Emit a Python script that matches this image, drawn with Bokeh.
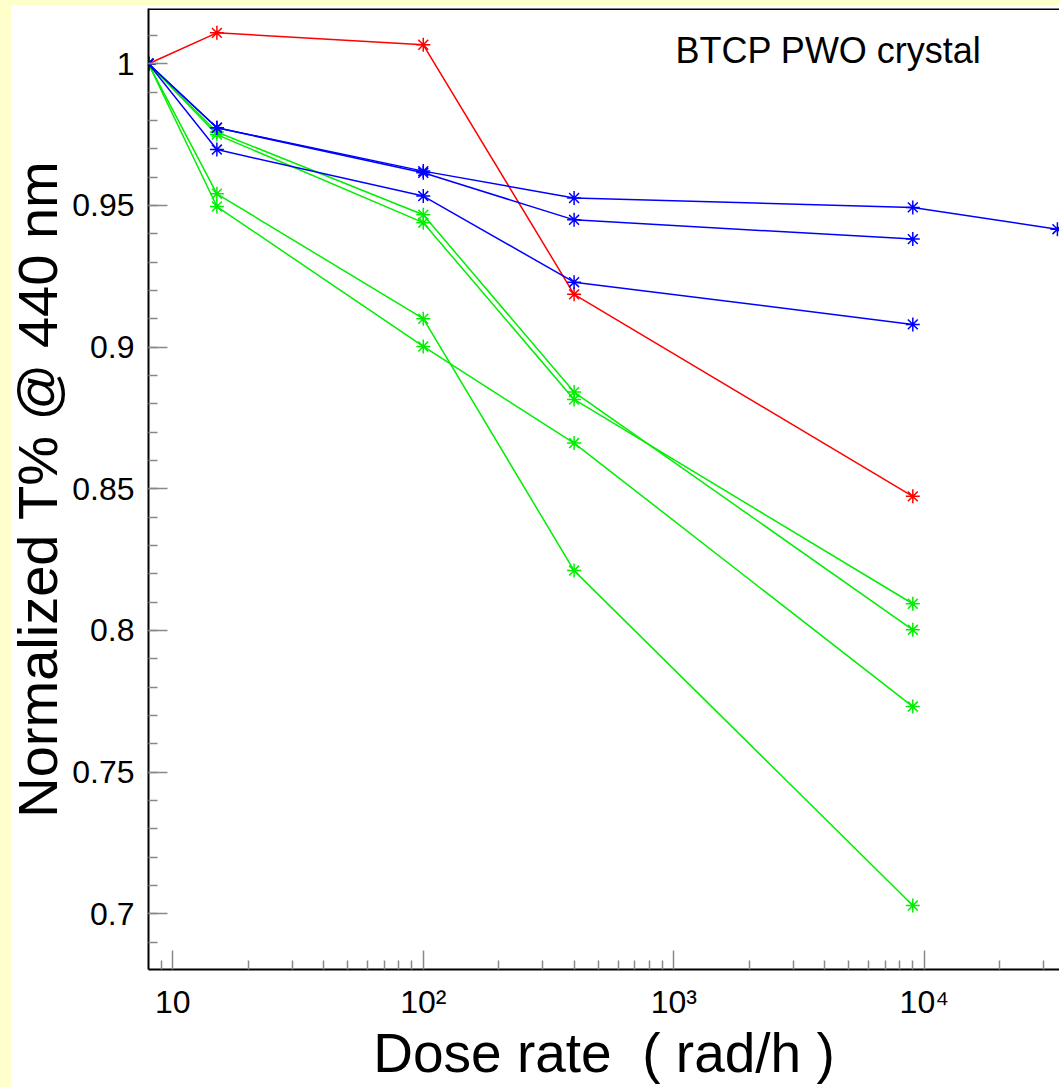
import numpy as np
from bokeh.plotting import figure
from bokeh.models import FixedTicker, Label, Span
from bokeh.embed import file_html
from bokeh.resources import INLINE

# ---- data ----
dose = [8, 15, 100, 400, 9000]
dose_long = [8, 15, 100, 400, 9000, 34000]

red_1 = [1.0, 1.0109, 1.0067, 0.9186, 0.8473]

blue_1 = [1.0, 0.9774, 0.9621, 0.9526, 0.9493, 0.9416]
blue_2 = [1.0, 0.9774, 0.9615, 0.9449, 0.9381]
blue_3 = [1.0, 0.9697, 0.9533, 0.9229, 0.9080]

green_1 = [1.0, 0.9759, 0.9467, 0.8841, 0.8002]
green_2 = [1.0, 0.9750, 0.9439, 0.8815, 0.8094]
green_3 = [1.0, 0.9541, 0.9100, 0.8211, 0.7029]
green_4 = [1.0, 0.9496, 0.9002, 0.8661, 0.7731]

x_ticks = [10, 100, 1000, 10000]
x_tick_labels = ["10", "10\u00b2", "10\u00b3", "10\u2074"]
y_ticks = [0.7, 0.75, 0.8, 0.85, 0.9, 0.95, 1.0]
y_tick_labels = ["0.7", "0.75", "0.8", "0.85", "0.9", "0.95", "1"]

x_title = "Dose rate\u00a0 ( rad/h )"
y_title = "Normalized T% @ 440 nm"
note = "BTCP PWO crystal"

x_lo, x_hi = 8, 34660
y_lo, y_hi = 0.6803, 1.0195

FONT = "Liberation Sans"
PAD = "#FFFFCC"

p = figure(width=1059, height=1087, x_axis_type="log",
           x_range=(x_lo, x_hi), y_range=(y_lo, y_hi),
           output_backend="svg", toolbar_location=None,
           min_border_left=148, min_border_right=0,
           min_border_top=8, min_border_bottom=118)
p.border_fill_color = None
p.background_fill_color = "white"
p.outline_line_color = None
p.grid.visible = False
p.styles = {
    "background": (f"linear-gradient(to right, {PAD} 11px, rgba(0,0,0,0) 11px), "
                   f"linear-gradient(to bottom, {PAD} 5px, #ffffff 5px)")
}

# axes
minor_x = [9] + [m * 10 ** k for k in (1, 2, 3) for m in range(2, 10)] + [20000, 30000]
p.xaxis.ticker = FixedTicker(ticks=x_ticks, minor_ticks=minor_x)
p.xaxis.major_label_overrides = {t: l for t, l in zip(x_ticks, x_tick_labels)}
minor_y = [round(v, 2) for v in np.arange(0.69, 1.015, 0.01)]
p.yaxis.ticker = FixedTicker(ticks=y_ticks, minor_ticks=minor_y)
p.yaxis.major_label_overrides = {t: l for t, l in zip(y_ticks, y_tick_labels)}

for ax in (p.xaxis[0], p.yaxis[0]):
    ax.axis_line_color = "black"
    ax.axis_line_width = 2
    ax.major_tick_in = 19
    ax.major_tick_out = 0
    ax.minor_tick_in = 9
    ax.minor_tick_out = 0
    ax.major_tick_line_color = "#888888"
    ax.minor_tick_line_color = "#888888"
    ax.major_tick_line_width = 1.5
    ax.minor_tick_line_width = 1.5
    ax.major_label_text_font = FONT
    ax.major_label_text_font_size = "32px"
    ax.major_label_text_color = "black"
    ax.axis_label_text_font = FONT
    ax.axis_label_text_font_style = "normal"
    ax.axis_label_text_color = "black"

p.xaxis.axis_label = x_title
p.xaxis.axis_label_text_font_size = "55px"
p.xaxis.major_label_standoff = 14
p.xaxis.axis_label_standoff = -1

p.yaxis.axis_label = y_title
p.yaxis.axis_label_text_font_size = "56px"
p.yaxis.major_label_standoff = 14
p.yaxis.axis_label_standoff = 0

# top frame border
p.add_layout(Span(location=y_hi, dimension="width", line_color="black", line_width=3))

def series(xs, ys, color):
    p.line(xs, ys, line_color=color, line_width=1.5)
    p.scatter(xs, ys, marker="asterisk", size=14, line_color=color, line_width=1.5)

for ys in (green_1, green_2, green_3, green_4):
    series(dose, ys, "#00ee00")
series(dose, red_1, "#ff0000")
series(dose_long, blue_1, "#0000ff")
series(dose, blue_2, "#0000ff")
series(dose, blue_3, "#0000ff")

p.add_layout(Label(x=527, y=919, x_units="screen", y_units="screen",
                   text=note, text_font=FONT,
                   text_font_size="36px", text_color="black",
                   text_baseline="alphabetic"))

open("out.html", "w").write(file_html(p, INLINE))
